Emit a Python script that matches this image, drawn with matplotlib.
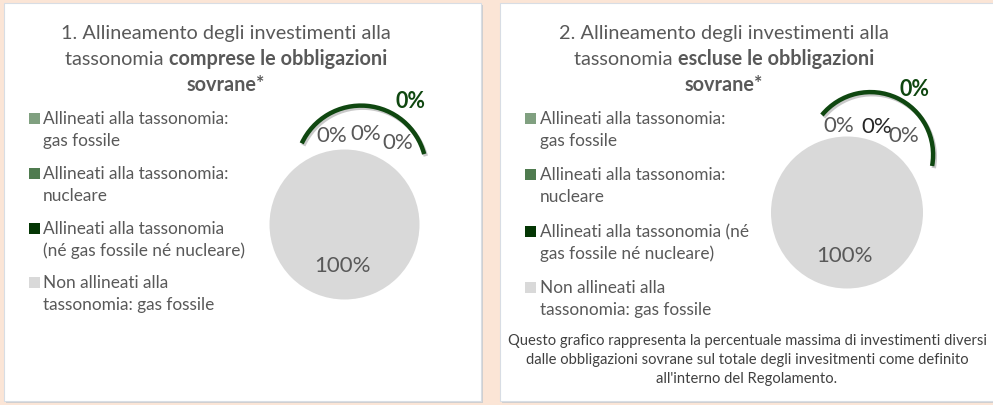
import matplotlib
matplotlib.use("Agg")
import matplotlib.pyplot as plt
import matplotlib.patches as mpatches
import matplotlib.patheffects as pe

plt.rcParams['font.family'] = ['Lato', 'DejaVu Sans']

# dati
categorie = ["Allineati alla tassonomia: gas fossile",
             "Allineati alla tassonomia: nucleare",
             "Allineati alla tassonomia (né gas fossile né nucleare)",
             "Non allineati alla tassonomia: gas fossile"]
colori = ['#80a080', '#4f7b4f', '#043604', '#d9d9d9']
valori_1 = [0, 0, 0, 100]   # comprese le obbligazioni sovrane
valori_2 = [0, 0, 0, 100]   # escluse le obbligazioni sovrane

# righe della legenda come vanno a capo in ciascun pannello
legenda_1 = [["Allineati alla tassonomia:", "gas fossile"],
             ["Allineati alla tassonomia:", "nucleare"],
             ["Allineati alla tassonomia", "(né gas fossile né nucleare)"],
             ["Non allineati alla", "tassonomia: gas fossile"]]
legenda_2 = [["Allineati alla tassonomia:", "gas fossile"],
             ["Allineati alla tassonomia:", "nucleare"],
             ["Allineati alla tassonomia (né", "gas fossile né nucleare)"],
             ["Non allineati alla", "tassonomia: gas fossile"]]

titolo_1 = [[("1. Allineamento degli investimenti alla", 'normal')],
            [("tassonomia ", 'normal'), ("comprese le obbligazioni", 'bold')],
            [("sovrane*", 'bold')]]
titolo_2 = [[("2. Allineamento degli investimenti alla", 'normal')],
            [("tassonomia ", 'normal'), ("escluse le obbligazioni", 'bold')],
            [("sovrane*", 'bold')]]

nota = ["Questo grafico rappresenta la percentuale massima di investimenti diversi",
        "dalle obbligazioni sovrane sul totale degli invesitmenti come definito",
        "all'interno del Regolamento."]

GRIGIO = '#595959'
VERDE = '#0f4710'

fig = plt.figure(figsize=(9.93, 4.05), dpi=100)
fig.patch.set_facecolor('#fbe5d6')
ax = fig.add_axes([0, 0, 1, 1])
renderer = fig.canvas.get_renderer()


def riga_mista(x_centro, y, pezzi, size):
    testi = []
    larghezza = 0
    for s, w in pezzi:
        t = ax.text(0, y, s, fontsize=size, fontweight=w, color=GRIGIO,
                    ha='left', va='baseline')
        larghezza += t.get_window_extent(renderer).width
        testi.append(t)
    x = x_centro - larghezza / 2
    for t in testi:
        t.set_x(x)
        x += t.get_window_extent(renderer).width


def pannello(x0, x1, titolo, x_tit, legenda, x_leg, y_leg, valori, centro, raggio,
             etichette, arco):
    ax.add_patch(mpatches.Rectangle((x0 + 1.5, 4.5), x1 - x0, 398, facecolor='#cfcfcf',
                                    edgecolor='none', zorder=0))
    ax.add_patch(mpatches.Rectangle((x0, 3), x1 - x0, 398, facecolor='white',
                                    edgecolor='#d8dde4', lw=0.8, zorder=0.5))
    for i, pezzi in enumerate(titolo):
        riga_mista(x_tit, 39 + 26 * i, pezzi, 14.3)

    for k, righe in enumerate(legenda):
        yb = y_leg[k]
        ax.add_patch(mpatches.Rectangle((x_leg - 14.5, yb - 11), 11, 11,
                                        facecolor=colori[k], edgecolor='none'))
        for j, r in enumerate(righe):
            ax.text(x_leg, yb + 22 * j, r, fontsize=12.45, color=GRIGIO,
                    ha='left', va='baseline')

    ax.pie(valori, colors=colori, radius=raggio, center=centro, startangle=90,
           counterclock=True, wedgeprops=dict(linewidth=0))

    # arco del segmento allineato
    (ac, ar, a1, a2) = arco
    a = mpatches.Arc(ac, 2 * ar, 2 * ar, theta1=-a2, theta2=-a1, color=VERDE, lw=3.2,
                     zorder=3)
    a.set_path_effects([pe.SimpleLineShadow(offset=(1.2, -1.5), shadow_color='#666666',
                                            alpha=0.35), pe.Normal()])
    ax.add_patch(a)

    # etichette: tre segmenti allineati, non allineati, totale allineato (grassetto)
    testi = [valori[0], valori[1], valori[2], valori[3], sum(valori[:3])]
    for k, (xe, ye, col, w) in enumerate(etichette):
        ax.text(xe, ye, f"{testi[k]:.0f}%", fontsize=16 if k < 4 else 15.5,
                fontweight=w, color=col, ha='center', va='baseline', zorder=4)


# pannello 1
pannello(4, 481, titolo_1, 226, legenda_1, 43, [124, 179, 234, 288], valori_1,
         (344.5, 224.5), 75,
         [(332, 141.5, GRIGIO, 'normal'), (366, 140.5, GRIGIO, 'normal'),
          (398, 149, GRIGIO, 'normal'), (342.5, 272, GRIGIO, 'normal'),
          (411, 108, VERDE, 'bold')],
         ((361, 171), 65.4, 15, 155))

# pannello 2
pannello(500, 1000, titolo_2, 724, legenda_2, 539.5, [124, 180, 237, 293], valori_2,
         (847, 212.5), 76,
         [(839, 131.5, GRIGIO, 'normal'), (877, 133, '#262626', 'normal'),
          (904, 142.5, GRIGIO, 'normal'), (844.5, 261.5, GRIGIO, 'normal'),
          (915, 96, VERDE, 'bold')],
         ((870.4, 154.8), 62.7, -10.3, 140.6))

for i, r in enumerate(nota):
    ax.text(747, 345 + 19.2 * i, r, fontsize=10.6, color='#404040', ha='center',
            va='baseline')

ax.set_xlim(0, 993)
ax.set_ylim(405, 0)
ax.set_aspect('auto')
ax.axis('off')

fig.savefig('out.png', dpi=100, facecolor=fig.get_facecolor())
